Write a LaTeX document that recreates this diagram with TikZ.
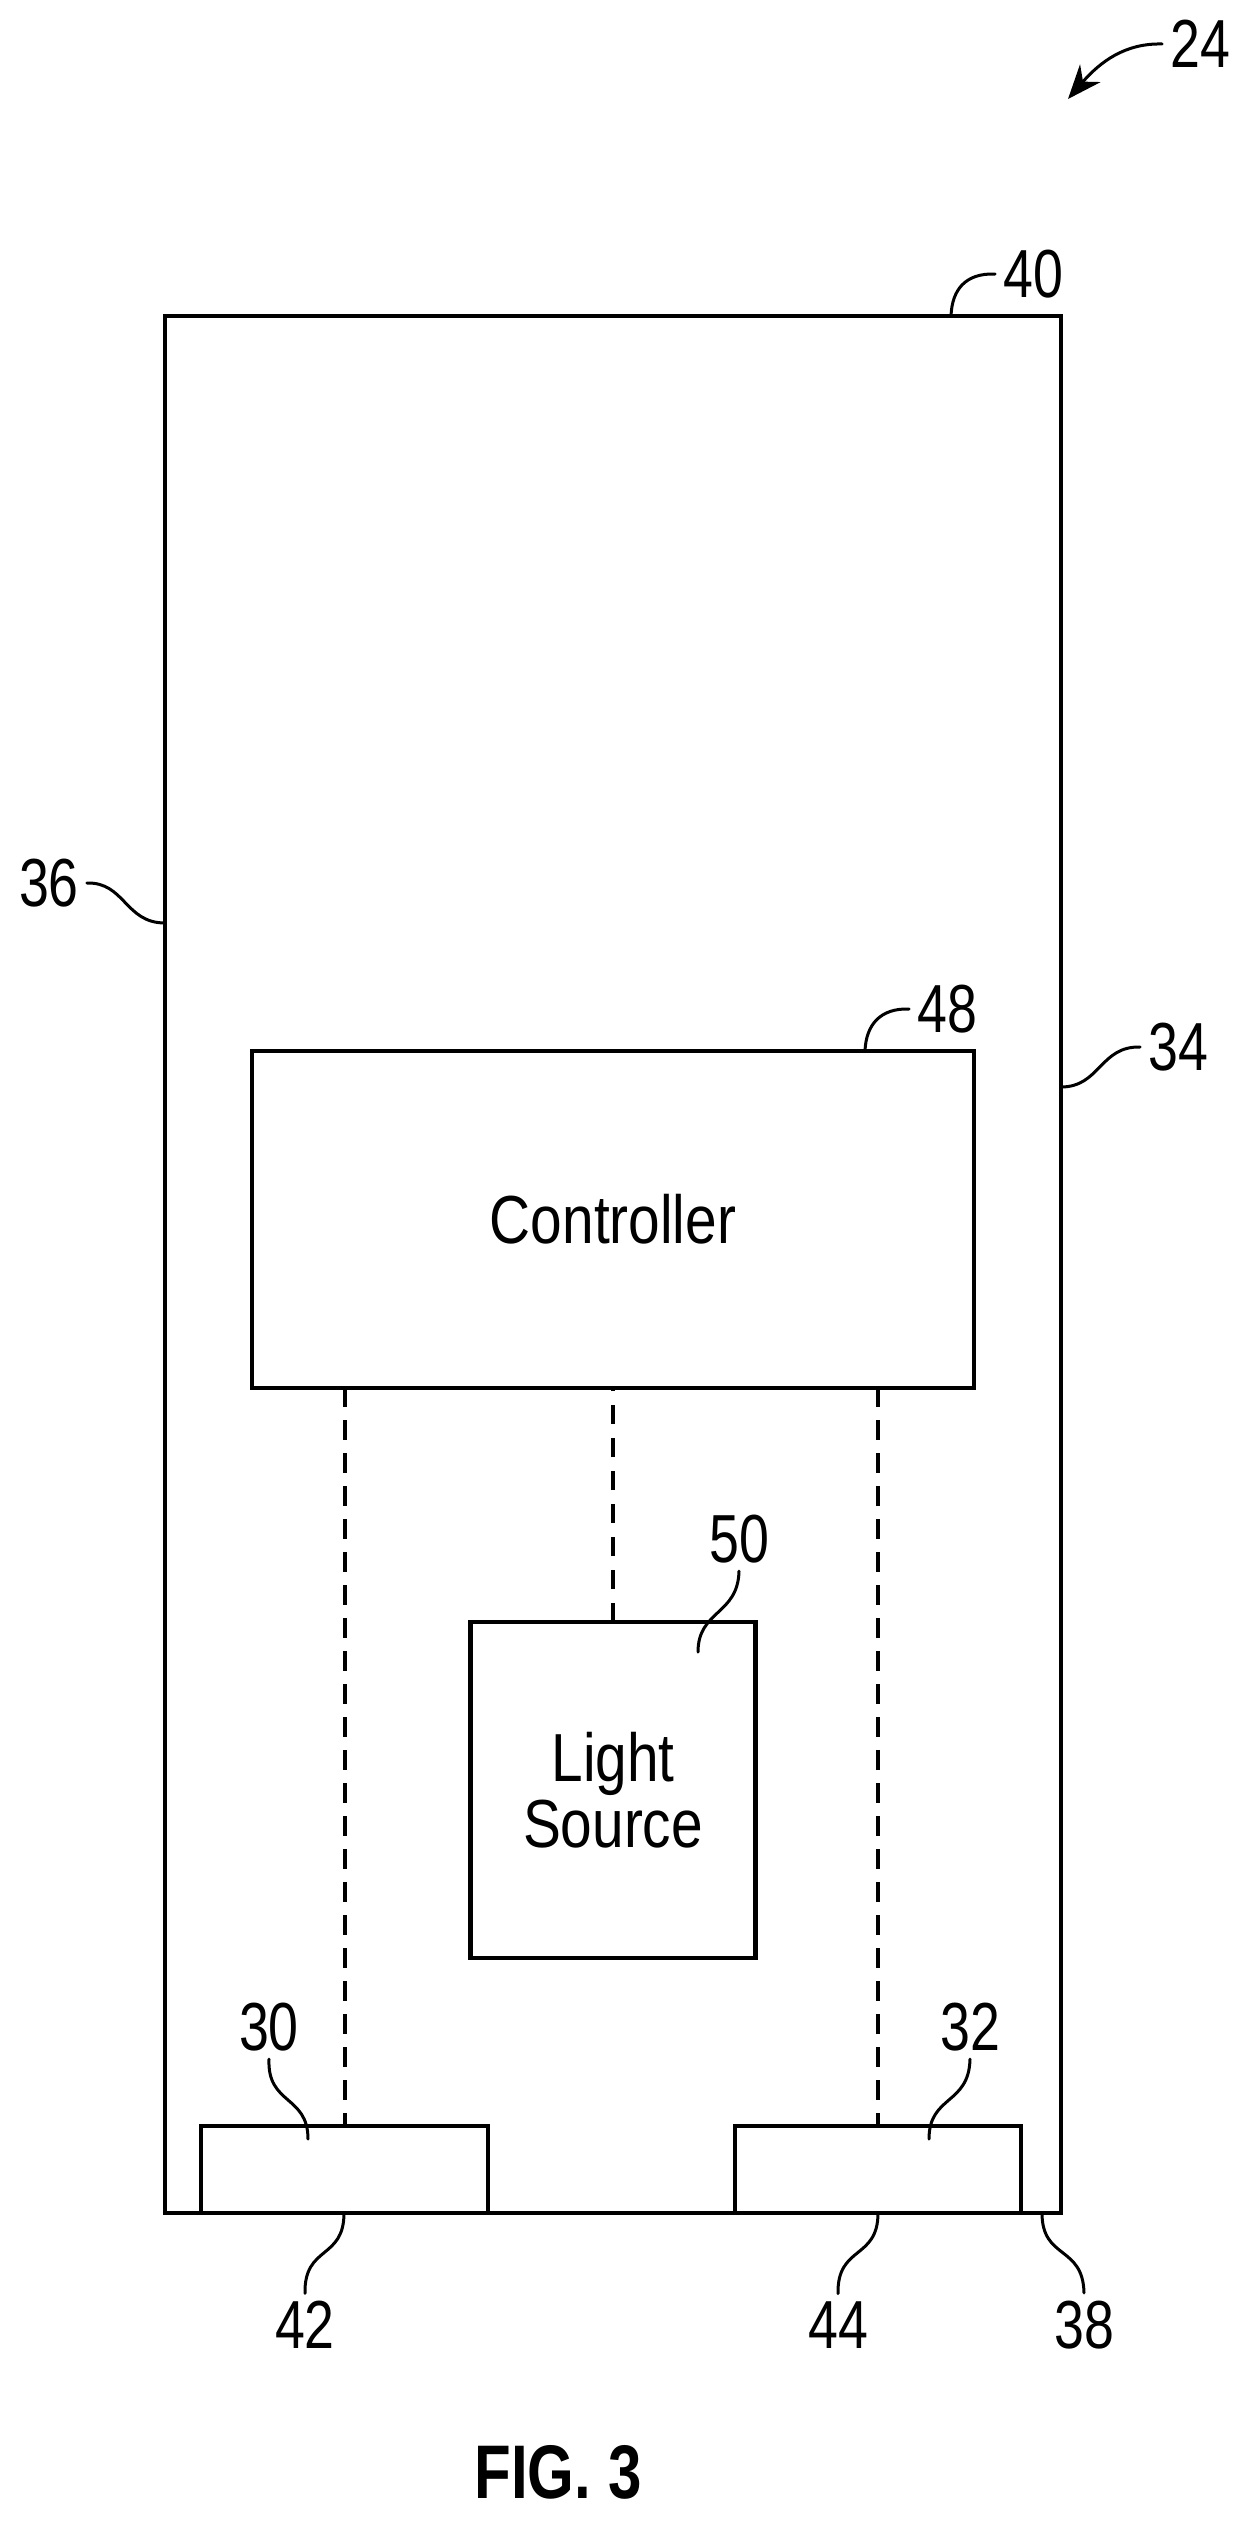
\documentclass[tikz,border=0pt]{standalone}
\usepackage{fontspec}
\setmainfont[FakeStretch=0.835]{Liberation Sans}
\newfontfamily\reffont[FakeStretch=0.79]{Liberation Sans}
\usetikzlibrary{positioning, arrows.meta}
\tikzset{
	x=1pt, y=-1pt,
	>={Stealth[length=34pt,width=27pt]},
	blockbox/.style={draw, line width=4.5pt, inner sep=0pt, outer sep=0pt, align=center, font=\fontsize{68}{66}\selectfont},
	reflabel/.style={inner sep=8pt, outer sep=0pt, font=\fontsize{68}{68}\reffont},
	leader/.style={line width=3pt, line cap=round},
	dashline/.style={line width=4pt, dash pattern=on 19.5pt off 13.5pt}}

\begin{document}
\begin{tikzpicture}
		\useasboundingbox (0,0) rectangle (1248,2521);
		
		\node[blockbox, minimum width=896pt, minimum height=1897pt] (housing) at (613,1264.5) {};
		\node[blockbox, minimum width=722pt, minimum height=337pt] (controller) at (613,1219.5) {Controller};
		\node[blockbox, minimum width=285pt, minimum height=336pt, below=234pt of controller] (lightsource) {Light\\Source};
		\node[blockbox, minimum width=287pt, minimum height=87pt] (sensorA) at (344.5,2169.5) {};
		\node[blockbox, minimum width=286pt, minimum height=87pt] (sensorB) at (878,2169.5) {};
		
		\node[reflabel] (lbl24) at (1200,44) {24};
		\node[reflabel] (lbl40) at (1033,274) {40};
		\node[reflabel] (lbl36) at (49,883) {36};
		\node[reflabel] (lbl34) at (1178,1047) {34};
		\node[reflabel] (lbl48) at (947,1009) {48};
		\node[reflabel] (lbl50) at (739,1539) {50};
		\node[reflabel] (lbl30) at (269,2027) {30};
		\node[reflabel] (lbl32) at (970,2027) {32};
		\node[reflabel] (lbl42) at (305,2325) {42};
		\node[reflabel] (lbl44) at (838,2325) {44};
		\node[reflabel] (lbl38) at (1084,2325) {38};
		\node[inner sep=0pt, font=\fontsize{76}{76}\reffont\bfseries] (figlabel) at (558,2472) {FIG. 3};
		
		\coordinate (end24) at (1068,99);
		\coordinate (end40) at (951,316);
		\coordinate (end36) at (165,923);
		\coordinate (end34) at (1061,1087);
		\coordinate (end48) at (865,1051);
		\coordinate (end50) at (698,1652);
		\coordinate (end30) at (308,2139);
		\coordinate (end32) at (929,2139);
		\coordinate (end42) at (344,2213);
		\coordinate (end44) at (878,2213);
		\coordinate (end38) at (1042,2213);
		
		\draw[dashline] (lightsource.north) -- (controller.south);
		\draw[dashline, dash phase=6.5pt] (sensorA.north) -- (sensorA.north |- controller.south);
		\draw[dashline, dash phase=6.5pt] (sensorB.north) -- (sensorB.north |- controller.south);
		
		\draw[leader, ->] (lbl24.west) .. controls (1125,43) and (1100,62) .. (end24);
		\draw[leader] (lbl40.west) .. controls (965,273) and (952,290) .. (end40);
		\draw[leader] (lbl36.east) .. controls (125,882) and (125,923) .. (end36);
		\draw[leader] (lbl34.west) .. controls (1100,1046) and (1100,1087) .. (end34);
		\draw[leader] (lbl48.west) .. controls (880,1008) and (866,1025) .. (end48);
		\draw[leader] (lbl50.south) .. controls (738,1615) and (698,1610) .. (end50);
		\draw[leader] (lbl30.south) .. controls (267,2105) and (308,2095) .. (end30);
		\draw[leader] (lbl32.south) .. controls (969,2105) and (929,2095) .. (end32);
		\draw[leader] (lbl42.north) .. controls (304,2245) and (344,2260) .. (end42);
		\draw[leader] (lbl44.north) .. controls (837,2245) and (878,2260) .. (end44);
		\draw[leader] (lbl38.north) .. controls (1083,2245) and (1042,2260) .. (end38);
	\end{tikzpicture}
\end{document}
